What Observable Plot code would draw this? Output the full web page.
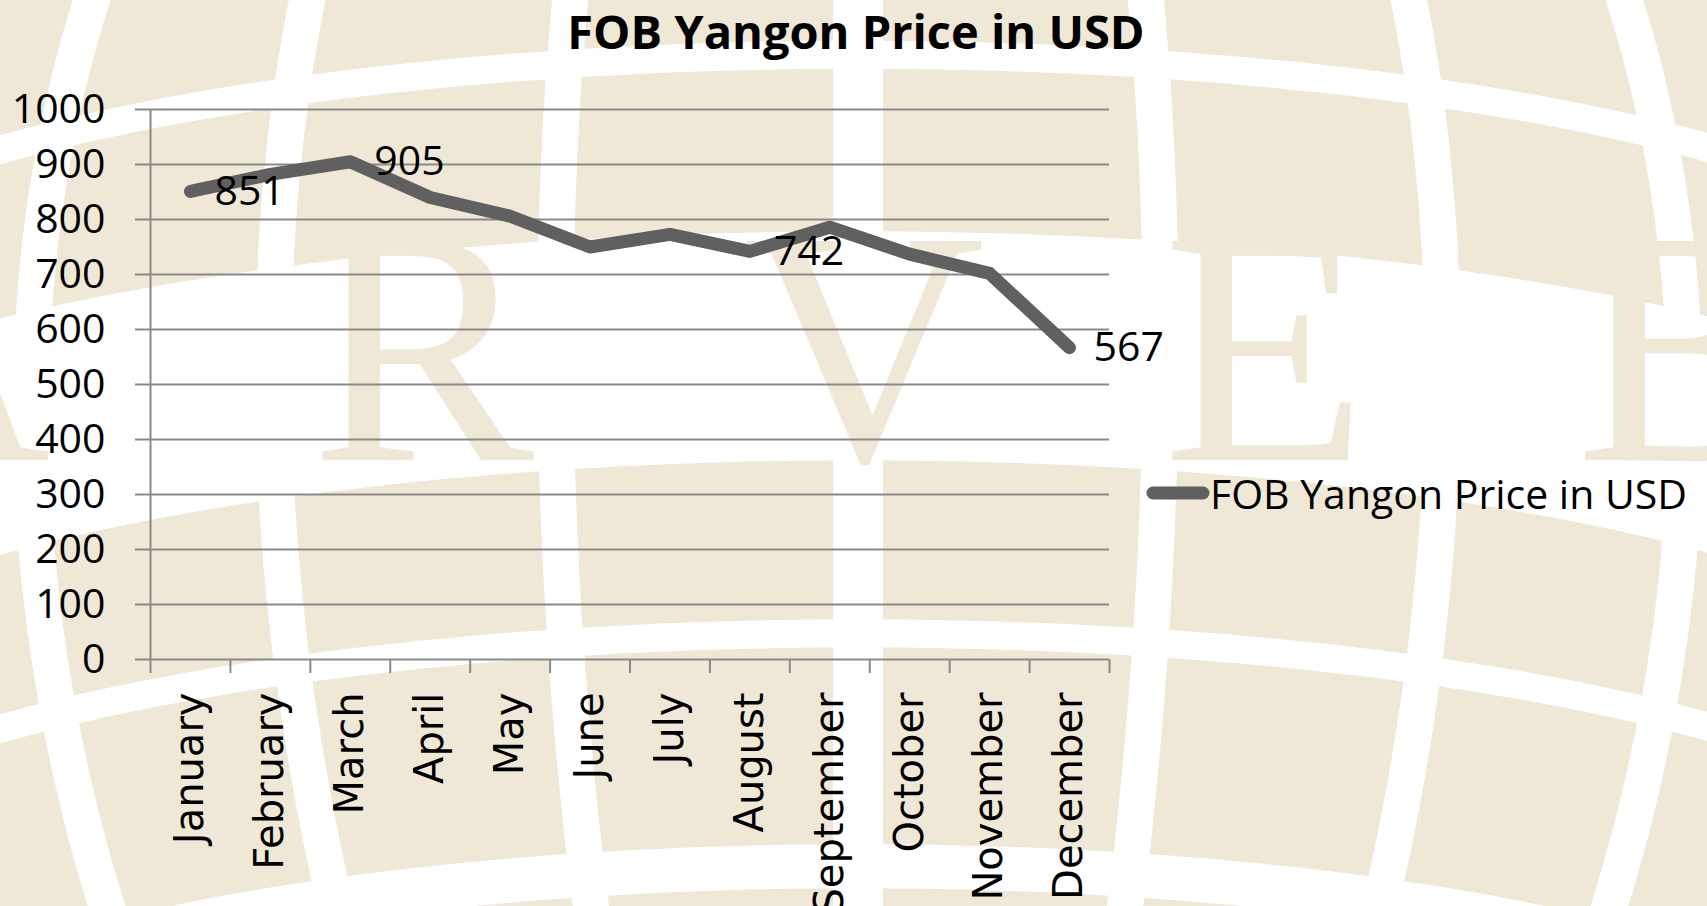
<!DOCTYPE html>
<html>
<head>
<meta charset="utf-8">
<script src="https://cdn.jsdelivr.net/npm/d3@7"></script>
<script src="https://cdn.jsdelivr.net/npm/@observablehq/plot@0.6"></script>
<style>
  html, body { margin: 0; padding: 0; background: #fff; }
  #wrap { position: relative; width: 1707px; height: 906px; overflow: hidden; background: #fff; }
  #bg { position: absolute; left: 0; top: 0; }
  #chart { position: absolute; left: 0; top: 0; }
  #title { position: absolute; left: 0; width: 1712px; top: 8px; text-align: center;
           font: 700 47px/47px "Open Sans", sans-serif; color: #000; white-space: nowrap; }
  #legend { position: absolute; left: 1146px; top: 469px; height: 48px; display: flex; align-items: center;
            font: 41px "Open Sans", sans-serif; color: #000; white-space: nowrap; }
  #legend svg { display: block; }
</style>
</head>
<body>
<div id="wrap">
  <svg id="bg" width="1707" height="906"></svg>
  <div id="chart"></div>
  <div id="title"></div>
  <div id="legend"></div>
</div>
<script>
// ---- data ----
const chartTitle = "FOB Yangon Price in USD";
const seriesName = "FOB Yangon Price in USD";
const months = ["January", "February", "March", "April", "May", "June", "July",
                "August", "September", "October", "November", "December"];
const prices = [851, 882, 905, 840, 806, 750, 773, 742, 786, 737, 702, 567];
const labeledMonths = ["January", "March", "August", "December"];
const yTicks = [0, 100, 200, 300, 400, 500, 600, 700, 800, 900, 1000];

// ---- decorative watermark (globe) ----
const beige = "#f0e8d6";
const globeParallels = [{lat: 14.5, w: 28}, {lat: -15, w: 28}, {lat: -26.5, w: 44}];
const globeMeridians = [-90, -75, -60, -45, -30, -15, 0, 15, 30, 45, 60, 75, 90];
const bandLat = -0.8;
const globeLetters = [{ch: "A", lon: -53}, {ch: "R", lon: -22}, {ch: "V", lon: 0.3}, {ch: "E", lon: 20.5}, {ch: "B", lon: 45.5}];

const bg = d3.select("#bg");
const proj = d3.geoOrthographic().rotate([0, 14]).scale(1170).translate([858, 613]).precision(0.2);
const gpath = d3.geoPath(proj);
const ls = coords => ({type: "LineString", coordinates: coords});
bg.append("rect").attr("width", 1707).attr("height", 906).attr("fill", "#fff");
bg.append("path").attr("d", gpath({type: "Sphere"})).attr("fill", beige);
globeMeridians.forEach(lon => {
  bg.append("path").attr("d", gpath(ls(d3.range(-90, 90.5, 1).map(lat => [lon, lat]))))
    .attr("fill", "none").attr("stroke", "#fff").attr("stroke-width", lon === 0 ? 50 : 36);
});
globeParallels.forEach(p => {
  bg.append("path").attr("d", gpath(ls(d3.range(-180, 180.5, 1).map(lon => [lon, p.lat]))))
    .attr("fill", "none").attr("stroke", "#fff").attr("stroke-width", p.w);
});
bg.append("path").attr("d", gpath(ls(d3.range(-180, 180.5, 1).map(lon => [lon, bandLat]))))
  .attr("fill", "none").attr("stroke", "#fff").attr("stroke-width", 229);
const baseY = proj([0, -6.5])[1];
globeLetters.forEach(l => {
  bg.append("text").attr("x", proj([l.lon, -6.5])[0]).attr("y", baseY)
    .attr("text-anchor", "middle").attr("font-family", "'Liberation Serif', 'DejaVu Serif', serif")
    .attr("font-size", 335).attr("fill", beige).text(l.ch);
});

// ---- chart ----
const data = months.map((m, i) => ({month: m, pos: i + 0.5, price: prices[i]}));
const labeled = data.filter(d => labeledMonths.includes(d.month));
const gridColor = "#898989";
const calibriLike = "'Open Sans', 'Liberation Sans', sans-serif";

const chart = Plot.plot({
  width: 1707,
  height: 906,
  marginLeft: 150,
  marginRight: 598,
  marginTop: 109,
  marginBottom: 247,
  style: {background: "transparent", overflow: "visible"},
  x: {domain: [0, months.length], label: null},
  y: {domain: [0, 1000], label: null},
  marks: [
    Plot.gridY(yTicks, {stroke: gridColor, strokeOpacity: 1, strokeWidth: 2}),
    Plot.ruleX([0], {y1: 0, y2: 1000, stroke: gridColor, strokeWidth: 2}),
    Plot.axisY(yTicks, {tickSize: 15, tickPadding: 30, stroke: gridColor, strokeWidth: 2,
      tickFormat: d => String(d), fontSize: 41, fontFamily: calibriLike, fill: "#000"}),
    Plot.axisX(d3.range(months.length + 1), {tickSize: 14, tickFormat: () => "",
      stroke: gridColor, strokeWidth: 2}),
    Plot.axisX(data.map(d => d.pos), {tickSize: 0, tickRotate: -90, tickPadding: 33,
      tickFormat: p => months[Math.round(p - 0.5)], fontSize: 40,
      fontFamily: "'DejaVu Sans', sans-serif", fill: "#000"}),
    Plot.line(data, {x: "pos", y: "price", stroke: "#606060", strokeWidth: 13,
      strokeLinejoin: "round", strokeLinecap: "round"}),
    Plot.text(labeled, {x: "pos", y: "price", text: d => String(d.price), dx: 24,
      textAnchor: "start", fontSize: 41, fontFamily: calibriLike, fill: "#000"})
  ]
});
document.getElementById("chart").append(chart);

// ---- title & legend ----
document.getElementById("title").textContent = chartTitle;
const legend = document.getElementById("legend");
legend.innerHTML = '<svg width="64" height="20"><line x1="7" x2="57" y1="10" y2="10" stroke="#606060" stroke-width="13" stroke-linecap="round"/></svg>';
const span = document.createElement("span");
span.textContent = seriesName;
legend.append(span);
</script>
</body>
</html>
